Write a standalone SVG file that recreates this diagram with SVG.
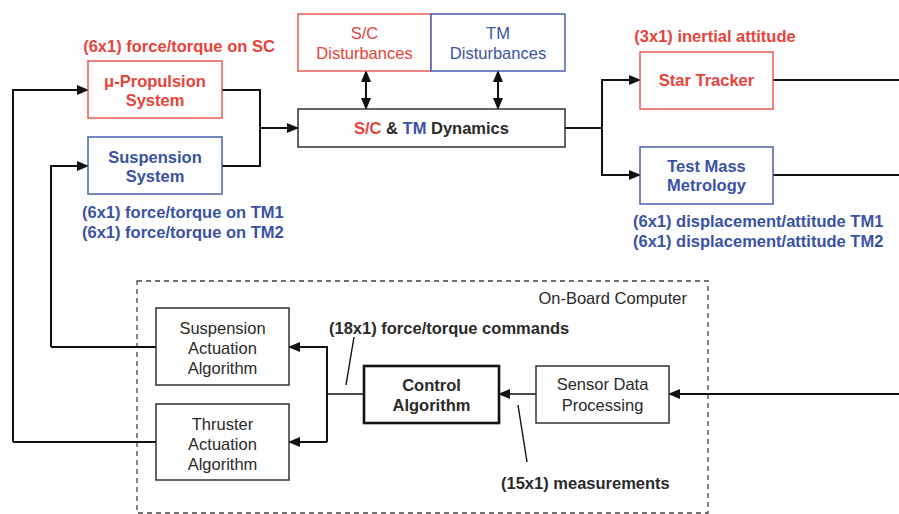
<svg xmlns="http://www.w3.org/2000/svg" width="899" height="514" viewBox="0 0 899 514">
<style>
text{font-family:"Liberation Sans",Arial,Helvetica,sans-serif;font-size:16.5px;text-anchor:middle}
.b{font-weight:bold}
.red{fill:#e8433b}
.blue{fill:#3b52a4}
.dk{fill:#2a2a2a}
.bx{fill:#fff;stroke-width:1.5}
.rb{stroke:#ea5a52}
.bb{stroke:#4a5fb0}
.kb{stroke:#333}
.ln{fill:none;stroke:#111;stroke-width:2}
.thin{fill:none;stroke:#111;stroke-width:1.4}
</style>
<defs>
<marker id="ah" markerUnits="userSpaceOnUse" markerWidth="12" markerHeight="10" refX="11" refY="5" orient="auto">
<path d="M0,0 L12,5 L0,10 Z" fill="#111"/>
</marker>
<marker id="as" markerUnits="userSpaceOnUse" markerWidth="12" markerHeight="10" refX="1" refY="5" orient="auto">
<path d="M12,0 L0,5 L12,10 Z" fill="#111"/>
</marker>
</defs>
<rect width="899" height="514" fill="#fff"/>

<g id="obc">
<rect x="137" y="281" width="571" height="232" fill="none" stroke="#444" stroke-width="1.3" stroke-dasharray="5,4"/>
<text x="687" y="304" style="text-anchor:end" class="dk">On-Board Computer</text>
</g>

<g id="connectors">
<path class="ln" d="M13,442 V90 H88" marker-end="url(#ah)"/>
<path class="ln" d="M51,347 V166 H88" marker-end="url(#ah)"/>
<path class="ln" d="M222,90 H260 V166 H222"/>
<path class="ln" d="M260,128 H298" marker-end="url(#ah)"/>
<path class="ln" d="M366,71 V109" marker-start="url(#as)" marker-end="url(#ah)"/>
<path class="ln" d="M498,71 V109" marker-start="url(#as)" marker-end="url(#ah)"/>
<path class="ln" d="M565,128 H602"/>
<path class="ln" d="M602,128 V80 H640" marker-end="url(#ah)"/>
<path class="ln" d="M602,128 V175 H640" marker-end="url(#ah)"/>
<path class="ln" d="M773,80 H899"/>
<path class="ln" d="M773,175 H899"/>
<path class="ln" d="M899,394 H669" marker-end="url(#ah)"/>
<path class="thin" d="M536,394 H499" marker-end="url(#ah)"/>
<path class="thin" d="M364,394 H327"/>
<path class="ln" d="M327,442 V347 H289" marker-end="url(#ah)"/>
<path class="ln" d="M327,442 H289" marker-end="url(#ah)"/>
<path class="ln" d="M156,347 H51"/>
<path class="ln" d="M156,442 H13"/>
<path class="thin" d="M354,337 L346,385"/>
<path class="thin" d="M518,405 L527,462"/>
</g>

<g id="labels">
<text x="179" y="52" class="b red">(6x1) force/torque on SC</text>
<text x="82" y="218" class="b blue" style="text-anchor:start">(6x1) force/torque on TM1</text>
<text x="82" y="238" class="b blue" style="text-anchor:start">(6x1) force/torque on TM2</text>
<text x="715" y="42" class="b red">(3x1) inertial attitude</text>
<text x="633" y="227" class="b blue" style="text-anchor:start">(6x1) displacement/attitude TM1</text>
<text x="633" y="247" class="b blue" style="text-anchor:start">(6x1) displacement/attitude TM2</text>
<text x="329" y="334" class="b dk" style="text-anchor:start">(18x1) force/torque commands</text>
<text x="501" y="489" class="b dk" style="text-anchor:start">(15x1) measurements</text>
</g>

<g id="propulsion">
<rect x="88" y="61" width="134" height="57" class="bx rb"/>
<text x="155" y="87" class="b red">μ-Propulsion</text>
<text x="155" y="106" class="b red">System</text>
</g>
<g id="suspension">
<rect x="88" y="137" width="134" height="57" class="bx bb"/>
<text x="155" y="163" class="b blue">Suspension</text>
<text x="155" y="182" class="b blue">System</text>
</g>
<g id="sc-dist">
<rect x="298" y="14" width="133" height="57" class="bx rb"/>
<text x="364.5" y="39" class="red">S/C</text>
<text x="364.5" y="59" class="red">Disturbances</text>
</g>
<g id="tm-dist">
<rect x="431" y="14" width="134" height="57" class="bx bb"/>
<text x="498" y="39" class="blue">TM</text>
<text x="498" y="59" class="blue">Disturbances</text>
</g>
<g id="dynamics">
<rect x="298" y="109" width="267" height="38" class="bx kb"/>
<text x="431.5" y="134" class="b dk"><tspan class="red">S/C</tspan> &amp; <tspan class="blue">TM</tspan> Dynamics</text>
</g>
<g id="star-tracker">
<rect x="640" y="52" width="133" height="57" class="bx rb"/>
<text x="706.5" y="86" class="b red">Star Tracker</text>
</g>
<g id="tm-metrology">
<rect x="640" y="147" width="133" height="57" class="bx bb"/>
<text x="706.5" y="172" class="b blue">Test Mass</text>
<text x="706.5" y="191" class="b blue">Metrology</text>
</g>
<g id="susp-act">
<rect x="156" y="308" width="133" height="77" class="bx kb"/>
<text x="222.5" y="334" class="dk">Suspension</text>
<text x="222.5" y="354" class="dk">Actuation</text>
<text x="222.5" y="374" class="dk">Algorithm</text>
</g>
<g id="thr-act">
<rect x="156" y="404" width="133" height="76" class="bx kb"/>
<text x="222.5" y="430" class="dk">Thruster</text>
<text x="222.5" y="450" class="dk">Actuation</text>
<text x="222.5" y="470" class="dk">Algorithm</text>
</g>
<g id="control">
<rect x="364" y="366" width="135" height="57" fill="#fff" stroke="#111" stroke-width="2.6"/>
<text x="431.5" y="391" class="b dk">Control</text>
<text x="431.5" y="411" class="b dk">Algorithm</text>
</g>
<g id="sensor">
<rect x="536" y="366" width="133" height="57" class="bx kb"/>
<text x="602.5" y="390" class="dk">Sensor Data</text>
<text x="602.5" y="411" class="dk">Processing</text>
</g>
</svg>
